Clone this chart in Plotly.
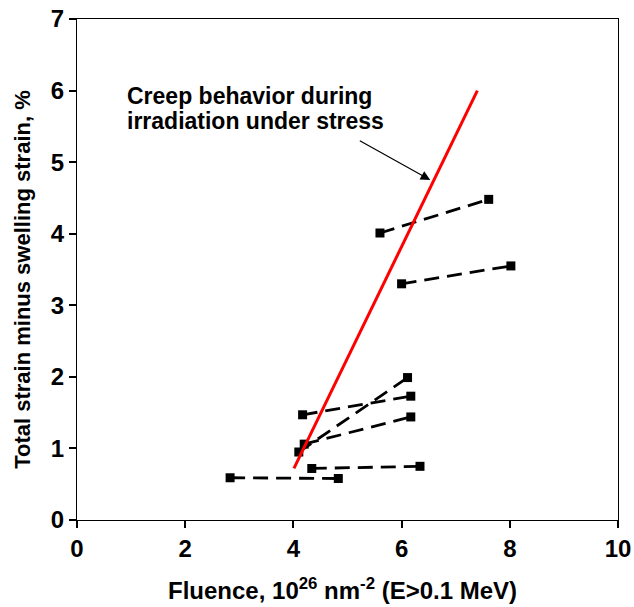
import plotly.graph_objects as go

# Paired measurements: fluence (10^26 n/m^2) and strain (%) at start/end of each test
pair_fluence = [
    [2.83, 4.83],
    [4.34, 6.34],
    [4.17, 6.17],
    [4.10, 6.11],
    [4.20, 6.17],
    [5.60, 7.61],
    [6.00, 8.02],
]
pair_strain = [
    [0.59, 0.58],
    [0.72, 0.75],
    [1.47, 1.73],
    [0.95, 1.99],
    [1.06, 1.44],
    [4.01, 4.48],
    [3.30, 3.55],
]

# Creep trend under stress during irradiation
creep_fluence = [4.01, 7.40]
creep_strain = [0.72, 6.00]

x_ticks = [0, 2, 4, 6, 8, 10]
y_ticks = [0, 1, 2, 3, 4, 5, 6, 7]

FONT = "Liberation Sans, Arial, sans-serif"

fig = go.Figure()

for fx, sy in zip(pair_fluence, pair_strain):
    fig.add_trace(go.Scatter(
        x=fx, y=sy, mode="lines+markers",
        line=dict(color="black", width=2.8, dash="15px,8px"),
        marker=dict(symbol="square", size=9, color="black"),
        showlegend=False, hoverinfo="skip",
    ))

fig.add_trace(go.Scatter(
    x=creep_fluence, y=creep_strain, mode="lines",
    line=dict(color="#ff0000", width=3),
    showlegend=False, hoverinfo="skip",
))

# Callout text and arrow
fig.add_annotation(
    x=0.88, y=5.92, xref="x", yref="y", text="<b>Creep behavior during</b>",
    showarrow=False, xanchor="left", yanchor="middle",
    font=dict(family=FONT, size=23, color="black"),
)
fig.add_annotation(
    x=0.88, y=5.57, xref="x", yref="y", text="<b>irradiation under stress</b>",
    showarrow=False, xanchor="left", yanchor="middle",
    font=dict(family=FONT, size=23, color="black"),
)
fig.add_annotation(
    x=6.53, y=4.75, ax=5.20, ay=5.31, xref="x", yref="y", axref="x", ayref="y",
    text="", showarrow=True, arrowhead=2, arrowsize=1.6, arrowwidth=1.2,
    arrowcolor="black",
)

# Axis titles
fig.add_annotation(
    x=0.49, y=-0.137, xref="paper", yref="paper",
    text="<b>Fluence, 10<sup>26</sup> nm<sup>-2</sup> (E>0.1 MeV)</b>",
    showarrow=False, xanchor="center", yanchor="middle",
    font=dict(family=FONT, size=24, color="black"),
)
fig.add_annotation(
    x=-0.102, y=0.481, xref="paper", yref="paper",
    text="<b>Total strain minus swelling strain, %</b>",
    showarrow=False, xanchor="center", yanchor="middle", textangle=-90,
    font=dict(family=FONT, size=22, color="black"),
)

axis_common = dict(
    showline=True, linecolor="black", linewidth=1, mirror=True,
    ticks="outside", ticklen=7, tickcolor="black", tickwidth=1.5,
    showgrid=False, zeroline=False, automargin=False,
    tickfont=dict(family=FONT, size=24, color="black", weight="bold"),
)

fig.update_xaxes(
    range=[0, 10], tickvals=x_ticks, ticktext=[str(v) for v in x_ticks],
    **axis_common,
)
fig.update_yaxes(
    range=[0, 7], tickvals=y_ticks, ticktext=[str(v) for v in y_ticks],
    **axis_common,
)

fig.update_layout(
    width=634, height=607,
    margin=dict(l=77, r=16, t=19, b=87, autoexpand=False),
    plot_bgcolor="white", paper_bgcolor="white",
)

fig.write_html("out.html")
